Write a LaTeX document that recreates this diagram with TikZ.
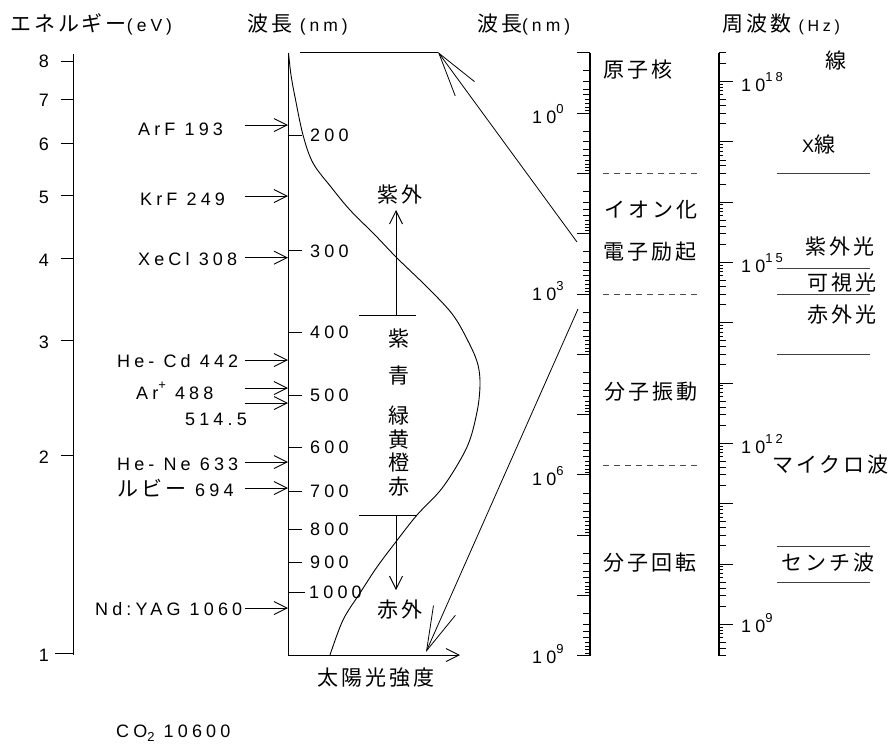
\documentclass[tikz,border=0pt]{standalone}
\usepackage{fontspec}
\setmainfont{Liberation Sans}
\newfontfamily\latfam{Liberation Sans}[LetterSpace=23]
\newfontfamily\jpfam{Noto Sans CJK JP}[LetterSpace=14]
\usetikzlibrary{arrows.meta}
\newcommand\latf{\latfam\fontsize{18pt}{20pt}\selectfont}
\newcommand\hdf{\latfam\fontsize{17.5pt}{19pt}\selectfont}
\newcommand\jpf{\jpfam\fontsize{21pt}{24pt}\selectfont}
\newcommand\supx[1]{\raisebox{10pt}{\latfam\fontsize{13pt}{14pt}\selectfont #1}}
\newcommand\subx[1]{\raisebox{-4pt}{\latfam\fontsize{13pt}{14pt}\selectfont #1}}
\begin{document}
\begin{tikzpicture}[x=1pt,y=-1pt,
  txt/.style={inner sep=0pt, font=\latf},
  jtxt/.style={inner sep=0pt, font=\jpf},
  ln/.style={line width=1pt},
  tk/.style={line width=0.8pt},
  tip/.style={-{Straight Barb[length=13pt,width=13pt]}, line width=0.9pt},
  bigtip/.style={-{Straight Barb[length=44pt,width=24pt]}, line width=0.8pt},
  band/.style={line width=1pt, black!75},
  dsh/.style={line width=1pt, black!70, dash pattern=on 6pt off 5pt},
]
\useasboundingbox (0,0) rectangle (891,745);

% ---------- headers ----------
\node[inner sep=0pt, anchor=base west] (hE) at (10,31.7) {\jpf エネルギー\hdf(eV)};
\node[inner sep=0pt, anchor=base west] (hW) at (247,31.7) {\jpf 波長 \hdf(nm)};
\node[inner sep=0pt, anchor=base west] (hL) at (477,31.7) {\jpf 波長\hdf(nm)};
\node[inner sep=0pt, anchor=base west] (hF) at (722,31.7) {\jpf 周波数 \latfam\fontsize{16pt}{17pt}\selectfont(Hz)};

% ---------- energy axis ----------
\coordinate (etop) at (73,54);
\coordinate (ebot) at (73,655);
\draw[ln] (etop) -- (ebot);
\foreach \v/\y/\b in {8/61/67.7, 7/99/106.7, 6/143/150, 5/195/203, 4/258.5/266, 3/340/348, 2/455.7/463} {
  \draw[ln] (61,\y) -- (73,\y);
  \node[txt, anchor=base] (e\v) at (44,\b) {\v};
}
\draw[ln] (55,653) -- (73,653);
\node[txt, anchor=base] (e1) at (44,661) {1};

% ---------- wavelength axis (linear part) ----------
\coordinate (wtop) at (288,53);
\coordinate (worg) at (288,655);
\coordinate (wend) at (460,655);
\draw[ln] (wtop) -- (worg);
\draw[tip] (worg) -- (wend);
\foreach \t/\y/\b in {200/135/141, 300/250/257, 400/332/338, 500/395/401, 600/447/453, 700/491/497, 800/529/535, 900/562/568} {
  \draw[ln] (288,\y) -- (302,\y);
  \node[txt, anchor=base west] (w\t) at (310,\b) {\t};
}
\draw[ln] (288,592) -- (305,592);
\node[txt, anchor=base west] (w1000) at (309,598) {1000};
\node[jtxt] (sun) at (376,678) {太陽光強度};

% ---------- laser lines ----------
\foreach \n/\y/\b/\x/\t in {
  arf/125/135/138/{ArF 193},
  krf/196/205.7/140/{KrF 249},
  xecl/257.7/265/138/{XeCl 308},
  hecd/360/367/117/{He- Cd 442},
  arp/388/399/136/{Ar\supx{+} 488},
  ars/403/425/185/{514.5},
  hene/462/470/117/{He- Ne 633},
  nd/608/615/95/{Nd:YAG 1060}} {
  \node[txt, anchor=base west] (l\n) at (\x,\b) {\t};
  \coordinate (s\n) at (245,\y);
  \draw[tip] (s\n) -- (s\n -| wtop);
}
\node[inner sep=0pt, anchor=base west] (lruby) at (117,496) {\jpf ルビー\latf~694};
\coordinate (sruby) at (245,488);
\draw[tip] (sruby) -- (sruby -| wtop);
\node[inner sep=0pt, anchor=base west] (lco) at (116,737) {\latf CO\subx{2} 10600};

% ---------- solar curve ----------
\draw[line width=0.9pt] plot[smooth, tension=0.55] coordinates {
 (288.5,53) (291,75) (295,97) (303,135) (313,163) (331,187) (350,210) (375,235)
 (397,258) (427,287) (453,315) (470,345) (478,365) (480,385) (477,412) (467,447)
 (443,487) (417,515) (395,543) (377,567) (360,593) (343,620) (330,655)};

% ---------- UV / IR ----------
\draw[ln] (359,315) -- (416,315);
\draw[ln] (359,515) -- (416,515);
\node[jtxt] (uv) at (400,195) {紫外};
\node[jtxt] (ir) at (400,610) {赤外};
\coordinate (vtop) at (396,315);
\coordinate (vbot) at (396,515);
\coordinate (uvt) at (396,210);
\coordinate (irt) at (396,590);
\draw[tip] (vtop) -- (uvt);
\draw[tip] (vbot) -- (irt);
\foreach \n/\y/\c in {c1/339/紫, c2/376/青, c3/416/緑, c4/440/黄, c5/462/橙, c6/487/赤} {
  \node[jtxt] (\n) at (399,\y) {\c};
}

% ---------- zoom link arrows ----------
\coordinate (hl) at (300,52);
\coordinate (tipA) at (438,52);
\coordinate (srcA) at (577,242);
\coordinate (srcB) at (578,309);
\coordinate (tipB) at (426,652);
\draw[ln] (hl) -- (tipA);
\draw[bigtip] (srcA) -- (tipA);
\draw[bigtip] (srcB) -- (tipB);

% ---------- log wavelength axis ----------
\coordinate (mtop) at (590,53);
\coordinate (mbot) at (590,656);
\draw[line width=1.3pt] (mtop) -- (mbot);
\foreach \d in {-1,...,9} {
  \pgfmathsetmacro\yy{113+60.3*\d}
  \draw[tk] (577,\yy) -- (590,\yy);
}
\foreach \d in {-1,...,8} {
  \foreach \m in {2,...,9} {
    \pgfmathsetmacro\ym{113+60.3*(\d+ln(\m)/2.302585)}
    \ifnum\m<6 \draw[tk] (583,\ym) -- (590,\ym); \else \draw[tk] (585,\ym) -- (590,\ym); \fi
  }
}
\node[txt, anchor=base west] (m0) at (532,123.3) {10\supx{0}};
\node[txt, anchor=base west] (m3) at (532,300) {10\supx{3}};
\node[txt, anchor=base west] (m6) at (532,485) {10\supx{6}};
\node[txt, anchor=base west] (m9) at (532,663) {10\supx{9}};

\node[jtxt, anchor=west] (p1) at (603,70) {原子核};
\node[jtxt, anchor=west] (p2) at (604,210) {イオン化};
\node[jtxt, anchor=west] (p3) at (603,252) {電子励起};
\node[jtxt, anchor=west] (p4) at (604,392) {分子振動};
\node[jtxt, anchor=west] (p5) at (603,563) {分子回転};
\coordinate (d1a) at (603,173); \coordinate (d1b) at (697,173);
\coordinate (d2a) at (603,294); \coordinate (d2b) at (697,294);
\coordinate (d3a) at (603,465); \coordinate (d3b) at (697,465);
\draw[dsh] (d1a) -- (d1b);
\draw[dsh] (d2a) -- (d2b);
\draw[dsh] (d3a) -- (d3b);

% ---------- frequency axis ----------
\coordinate (ftop) at (719,53);
\coordinate (fbot) at (719,656);
\draw[line width=1.3pt] (ftop) -- (fbot);
\foreach \n in {9,...,18} {
  \pgfmathsetmacro\yy{81.5+60.3*(18-\n)}
  \draw[tk] (719,\yy) -- (733,\yy);
}
\foreach \n in {8,...,18} {
  \foreach \m in {2,...,9} {
    \pgfmathsetmacro\ym{81.5+60.3*(18-\n-ln(\m)/2.302585)}
    \ifdim\ym pt>52pt \ifdim\ym pt<657pt
      \ifnum\m<6 \draw[tk] (719,\ym) -- (726,\ym); \else \draw[tk] (719,\ym) -- (723,\ym); \fi
    \fi\fi
  }
}
\node[txt, anchor=base west] (f18) at (741,91.7) {10\supx{18}};
\node[txt, anchor=base west] (f15) at (741,272) {10\supx{15}};
\node[txt, anchor=base west] (f12) at (741,453) {10\supx{12}};
\node[txt, anchor=base west] (f9) at (741,632) {10\supx{9}};

\node[jtxt, anchor=west] (r1) at (825,61) {線};
\node[inner sep=0pt, anchor=base west] (r2) at (802,152) {\latf X\jpf 線};
\node[jtxt, anchor=west] (r3) at (805,247) {紫外光};
\node[jtxt, anchor=west] (r4) at (807,283) {可視光};
\node[jtxt, anchor=west] (r5) at (807,315) {赤外光};
\node[jtxt, anchor=west] (r6) at (772,465) {マイクロ波};
\node[jtxt, anchor=west] (r7) at (781,563) {センチ波};
\foreach \y [count=\i] in {173,268,294,354,546,582} {
  \coordinate (ba\i) at (777,\y);
  \coordinate (bb\i) at (870,\y);
  \draw[band] (ba\i) -- (bb\i);
}
\end{tikzpicture}
\end{document}
